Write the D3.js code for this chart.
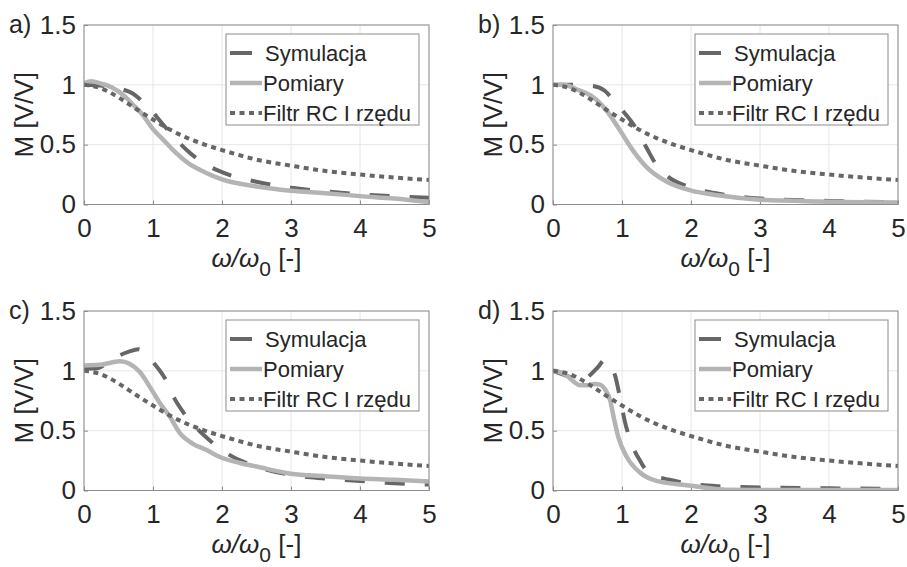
<!DOCTYPE html>
<html>
<head>
<meta charset="utf-8">
<script src="https://cdn.jsdelivr.net/npm/d3@7"></script>
<style>
	body { margin: 0; background: #fff; }
	svg { display: block; font-family: "Liberation Sans", Arial, sans-serif; }
</style>
</head>
<body>
<div id="chart"></div>
<script>
// values, [omega/omega0, M]
const filtrRC = [[0,1],[0.25,0.97],[0.5,0.895],[0.75,0.8],[1,0.71],[1.25,0.625],[1.5,0.555],[1.75,0.5],[2,0.455],[2.5,0.375],[3,0.325],[3.5,0.28],[4,0.25],[4.5,0.225],[5,0.205]];

const symA = [[0,1],[0.3,0.99],[0.5,0.97],[0.7,0.93],[0.85,0.86],[1,0.77],[1.1,0.7],[1.25,0.6],[1.5,0.45],[1.75,0.34],[2,0.27],[2.5,0.19],[3,0.14],[3.5,0.11],[4,0.085],[4.5,0.068],[5,0.056]];
const pomA = [[0,1.01],[0.1,1.03],[0.25,1.01],[0.4,0.98],[0.6,0.9],[0.7,0.84],[0.85,0.75],[1,0.63],[1.15,0.54],[1.3,0.45],[1.5,0.35],[1.75,0.27],[2,0.21],[2.5,0.15],[3,0.115],[3.5,0.095],[4,0.07],[4.5,0.05],[5,0.02]];

const symB = [[0,1],[0.3,1],[0.58,0.99],[0.75,0.95],[0.85,0.89],[1,0.79],[1.2,0.64],[1.35,0.48],[1.5,0.33],[1.65,0.24],[1.95,0.15],[2.4,0.09],[3,0.05],[4,0.03],[5,0.02]];
const pomB = [[0,1],[0.15,1],[0.35,0.96],[0.55,0.91],[0.77,0.79],[0.97,0.62],[1.16,0.45],[1.36,0.31],[1.65,0.19],[1.98,0.12],[2.42,0.075],[3,0.04],[3.87,0.025],[5,0.017]];

const symC = [[0,1.02],[0.17,1.02],[0.35,1.07],[0.52,1.13],[0.65,1.16],[0.79,1.18],[0.9,1.14],[1.02,1.06],[1.17,0.94],[1.31,0.77],[1.45,0.645],[1.65,0.51],[1.84,0.41],[2.1,0.3],[2.5,0.2],[3,0.13],[3.5,0.1],[4,0.08],[4.5,0.06],[5,0.05]];
const pomC = [[0,1.045],[0.23,1.05],[0.4,1.07],[0.52,1.08],[0.66,1.06],[0.81,0.99],[0.95,0.87],[1.1,0.73],[1.24,0.62],[1.39,0.48],[1.58,0.39],[1.77,0.34],[1.97,0.28],[2.26,0.23],[2.5,0.2],[3,0.14],[3.5,0.12],[4,0.1],[4.5,0.09],[5,0.075]];

const symD = [[0,1],[0.24,0.95],[0.43,0.91],[0.53,0.96],[0.65,1.03],[0.75,1.09],[0.82,1.06],[0.9,0.96],[0.97,0.78],[1.04,0.58],[1.14,0.39],[1.26,0.25],[1.4,0.14],[1.69,0.09],[2,0.055],[2.4,0.035],[3,0.025],[4,0.018],[5,0.014]];
const pomD = [[0,1],[0.1,0.99],[0.2,0.96],[0.3,0.91],[0.39,0.88],[0.5,0.88],[0.6,0.89],[0.68,0.885],[0.76,0.84],[0.83,0.75],[0.88,0.61],[0.95,0.44],[1.07,0.28],[1.26,0.15],[1.5,0.08],[2,0.04],[2.25,0.02],[2.5,0.006],[3,0.004],[5,0.004]];

const xTicks = [0, 1, 2, 3, 4, 5];
const xTickLabels = ["0", "1", "2", "3", "4", "5"];
const yTicks = [0, 0.5, 1, 1.5];
const yTickLabels = ["0", "0.5", "1", "1.5"];
const legendNames = ["Symulacja", "Pomiary", "Filtr RC I rzędu"];
const panelLetters = ["a)", "b)", "c)", "d)"];

const panels = [
	{letter: panelLetters[0], sym: symA, pom: pomA, left: 84, top: 25},
	{letter: panelLetters[1], sym: symB, pom: pomB, left: 553, top: 25},
	{letter: panelLetters[2], sym: symC, pom: pomC, left: 84, top: 311},
	{letter: panelLetters[3], sym: symD, pom: pomD, left: 553, top: 311}
];

const W = 907, H = 567;
const pw = 345, ph = 179.5;
const styles = [
	{stroke: "#666666", width: 4, dash: "20,20"},
	{stroke: "#b4b4b4", width: 4.5, dash: null},
	{stroke: "#666666", width: 4, dash: "5,4.5"}
];

const svg = d3.select("#chart")
	.append("svg")
	.attr("width", W)
	.attr("height", H);

const x = d3.scaleLinear().domain([0, 5]).range([0, pw]);
const y = d3.scaleLinear().domain([0, 1.5]).range([ph, 0]);
const line = d3.line()
	.x(d => x(d[0]))
	.y(d => y(d[1]))
	.curve(d3.curveMonotoneX);

panels.forEach((p, k) => {
	const g = svg.append("g")
		.attr("transform", "translate(" + p.left + "," + p.top + ")");

	g.append("clipPath")
		.attr("id", "clip" + k)
		.append("rect")
		.attr("width", pw)
		.attr("height", ph);

	// grid
	g.selectAll(".gx").data(xTicks).enter()
		.append("line")
		.attr("x1", d => x(d)).attr("x2", d => x(d))
		.attr("y1", 0).attr("y2", ph)
		.attr("stroke", "#e6e6e6");
	g.selectAll(".gy").data(yTicks).enter()
		.append("line")
		.attr("x1", 0).attr("x2", pw)
		.attr("y1", d => y(d)).attr("y2", d => y(d))
		.attr("stroke", "#e6e6e6");

	// axes
	const xAxis = g.append("g")
		.attr("transform", "translate(0," + ph + ")")
		.call(d3.axisBottom(x).tickValues(xTicks).tickFormat((d, i) => xTickLabels[i]).tickSizeInner(-4).tickSizeOuter(0).tickPadding(12));
	const yAxis = g.append("g")
		.call(d3.axisLeft(y).tickValues(yTicks).tickFormat((d, i) => yTickLabels[i]).tickSizeInner(-4).tickSizeOuter(0).tickPadding(8));
	[xAxis, yAxis].forEach(a => {
		a.select(".domain").remove();
		a.selectAll(".tick line").attr("stroke", "#8c8c8c");
		a.selectAll(".tick text")
			.attr("fill", "#262626")
			.style("font-size", "26px")
			.style("font-family", "'Liberation Sans', Arial, sans-serif");
	});
	xAxis.selectAll(".tick text").attr("dy", "0.8em");

	// series
	const series = [p.sym, p.pom, filtrRC];
	g.append("g")
		.attr("clip-path", "url(#clip" + k + ")")
		.selectAll("path")
		.data(series).enter()
		.append("path")
		.attr("d", line)
		.attr("fill", "none")
		.attr("stroke", (d, i) => styles[i].stroke)
		.attr("stroke-width", (d, i) => styles[i].width)
		.attr("stroke-dasharray", (d, i) => styles[i].dash);

	// box
	g.append("rect")
		.attr("width", pw)
		.attr("height", ph)
		.attr("fill", "none")
		.attr("stroke", "#8c8c8c")
		.attr("stroke-width", 1);

	// labels
	svg.append("text")
		.attr("x", p.left - 75)
		.attr("y", p.top + 8)
		.attr("fill", "#262626")
		.style("font-size", "25px")
		.text(p.letter);

	svg.append("text")
		.attr("transform", "translate(" + (p.left - 51) + "," + (p.top + ph / 2) + ") rotate(-90)")
		.attr("text-anchor", "middle")
		.attr("fill", "#262626")
		.style("font-size", "26px")
		.text("M [V/V]");

	const xl = svg.append("text")
		.attr("x", p.left + pw / 2)
		.attr("y", p.top + ph + 62)
		.attr("text-anchor", "middle")
		.attr("fill", "#262626")
		.style("font-size", "26px");
	xl.append("tspan").style("font-style", "italic").text("ω/ω");
	xl.append("tspan").attr("dy", 9).style("font-size", "21px").text("0");
	xl.append("tspan").attr("dy", -9).text(" [-]");

	// legend
	const lw = 193, lh = 91;
	const leg = g.append("g")
		.attr("transform", "translate(" + (pw - 10 - lw) + ",9)");
	leg.append("rect")
		.attr("width", lw)
		.attr("height", lh)
		.attr("fill", "#fff")
		.attr("stroke", "#8c8c8c");
	const rows = leg.selectAll(".row")
		.data(legendNames).enter()
		.append("g")
		.attr("transform", (d, i) => "translate(0," + (19 + i * 30) + ")");
	rows.append("line")
		.attr("x1", 4).attr("x2", 36)
		.attr("stroke", (d, i) => styles[i].stroke)
		.attr("stroke-width", (d, i) => styles[i].width)
		.attr("stroke-dasharray", (d, i) => i == 0 ? "22,20" : styles[i].dash);
	rows.append("text")
		.attr("x", (d, i) => i == 0 ? 39 : 37)
		.attr("dy", "0.36em")
		.attr("fill", "#262626")
		.style("font-size", "22px")
		.text(d => d);
});
</script>
</body>
</html>
